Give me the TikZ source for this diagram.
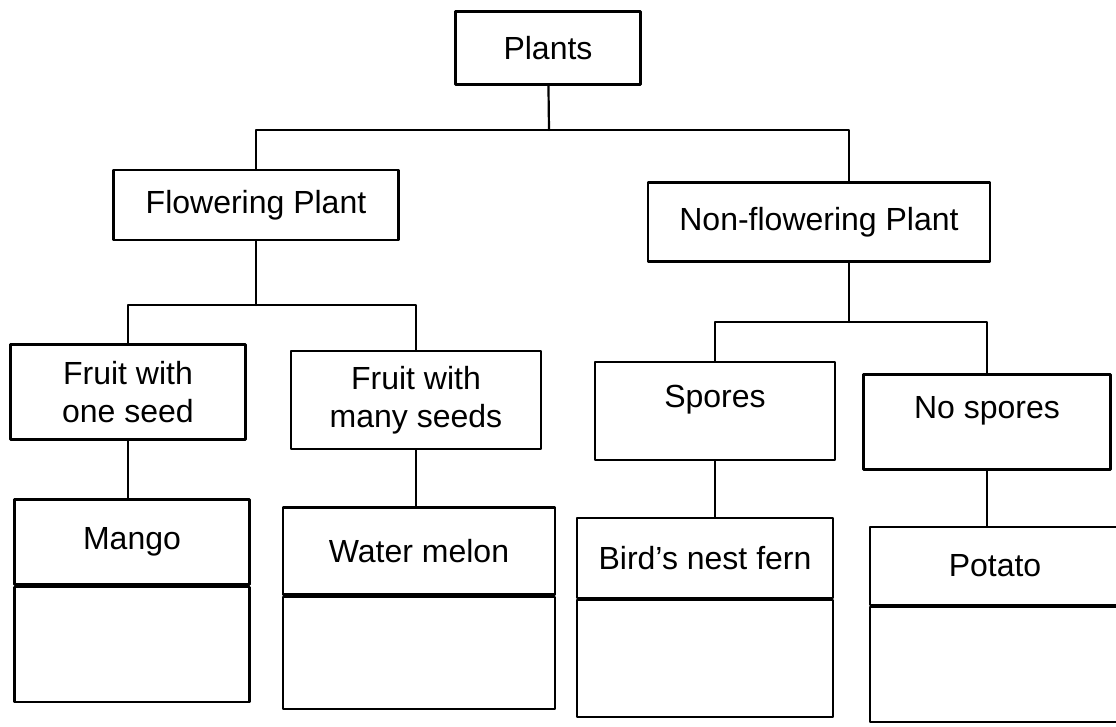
\documentclass[tikz,border=0pt]{standalone}
\usepackage{fontspec}
\setmainfont{Liberation Sans}
\usetikzlibrary{positioning}

\begin{document}
\begin{tikzpicture}[x=1pt,y=-1pt,line cap=round,line join=round,
  box/.style={draw,line width=2.2pt,inner sep=0pt,align=center,font=\fontsize{32}{38}\selectfont},
  link/.style={line width=2.2pt}]
\useasboundingbox (0,0) rectangle (1116,727);
% top levels
\node[box,minimum width=185,minimum height=73] (plants) at (548,48) {Plants};
\node[box,minimum width=285,minimum height=70] (flower) at (256,205) {Flowering Plant};
\node[box,minimum width=342,minimum height=79] (nonflower) at (819,222) {Non-flowering Plant};
\coordinate (top) at (549,130);
\draw[link] (plants) -- (top);
\draw[link] (flower) |- (top) -| ([xshift=30pt]nonflower.north);
% fruit and spores
\node[box,minimum width=235,minimum height=95] (one) at (128,392) {Fruit with\\one seed};
\node[box,minimum width=250,minimum height=98] (many) at (416,400) {Fruit with\\many seeds};
\node[box,minimum width=240,minimum height=98] (spores) at (715,411) {Spores\\[-8pt]~};
\node[box,minimum width=247,minimum height=95] (nospores) at (987,422) {No spores\\[-8pt]~};
\coordinate (fl) at (256,305);
\coordinate (nf) at (849,322);
\draw[link] (flower) -- (fl);
\draw[link] (one) |- (fl) -| (many);
\draw[link] ([xshift=30pt]nonflower.south) -- (nf);
\draw[link] (spores) |- (nf) -| (nospores);
% examples, with an empty row below
\node[box,minimum width=235,minimum height=85] (mango) at (132,542) {Mango};
\node[box,minimum width=235,minimum height=115,below=0pt of mango] (mangoB) {};
\node[box,minimum width=272,minimum height=87] (melon) at (419,551) {Water melon};
\node[box,minimum width=272,minimum height=112,below=0pt of melon] (melonB) {};
\node[box,minimum width=256,minimum height=80] (fern) at (705,558) {Bird's nest fern};
\node[box,minimum width=256,minimum height=117,below=0pt of fern] (fernB) {};
\node[box,minimum width=250,minimum height=78] (potato) at (995,566) {\raisebox{-10pt}{Potato}};
\node[box,minimum width=250,minimum height=115,below=0pt of potato] (potatoB) {};
\draw[link] (one) -- (one.south |- mango.north);
\draw[link] (many) -- (many.south |- melon.north);
\draw[link] (spores) -- (spores.south |- fern.north);
\draw[link] (nospores) -- (nospores.south |- potato.north);
\end{tikzpicture}
\end{document}
